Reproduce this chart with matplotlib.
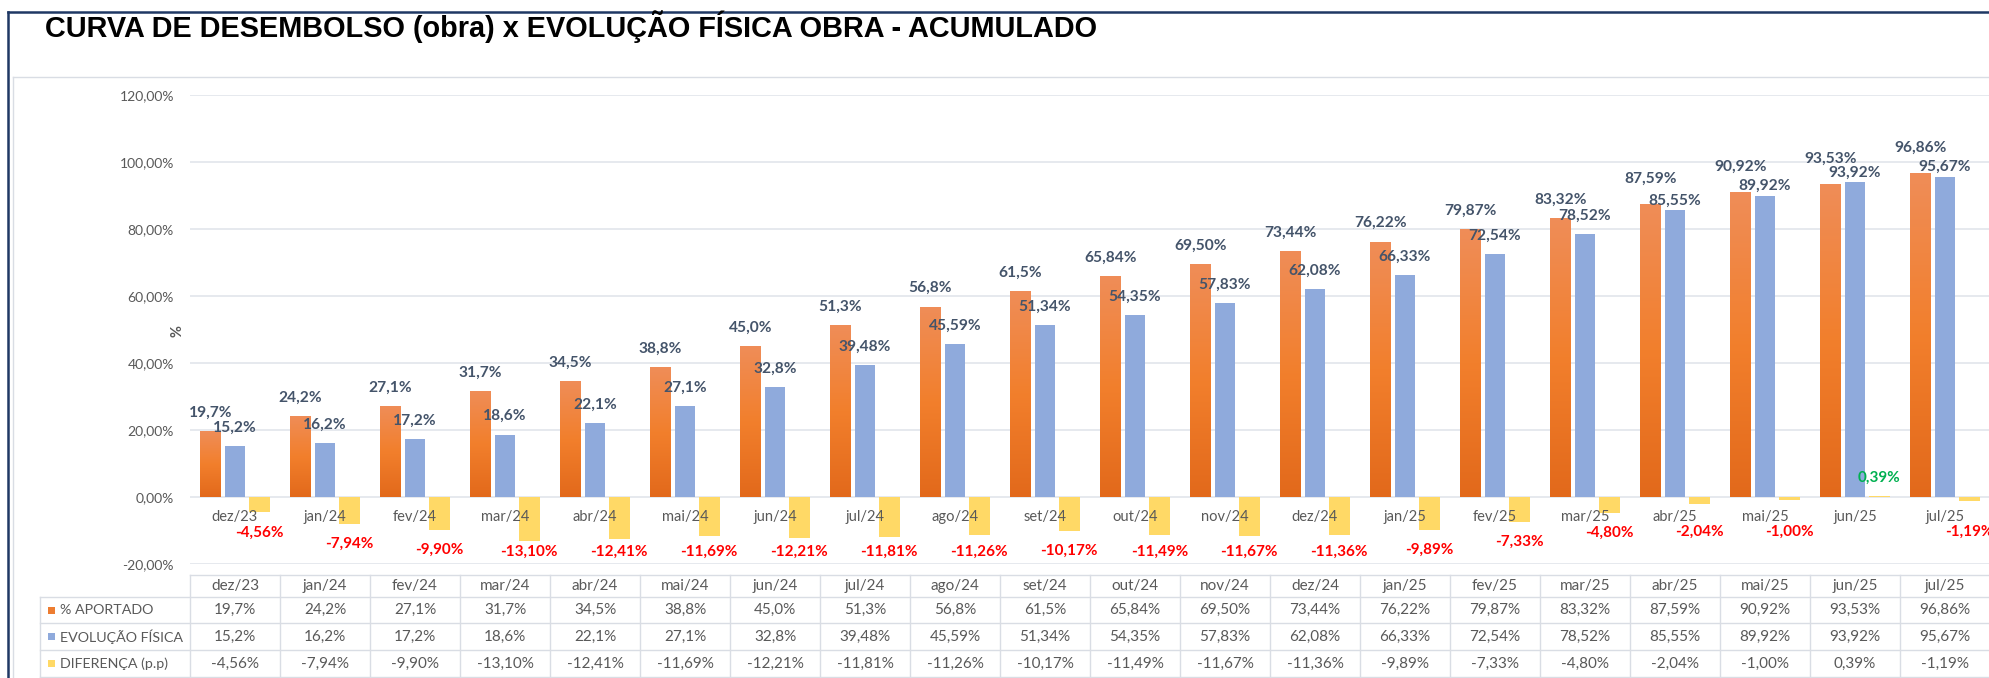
import numpy as np
import matplotlib
matplotlib.use("Agg")
import matplotlib.pyplot as plt
from matplotlib.patches import Rectangle
from matplotlib.lines import Line2D
from matplotlib.colors import LinearSegmentedColormap

# ---------------- data ----------------
categories = ["dez/23", "jan/24", "fev/24", "mar/24", "abr/24", "mai/24", "jun/24",
              "jul/24", "ago/24", "set/24", "out/24", "nov/24", "dez/24", "jan/25",
              "fev/25", "mar/25", "abr/25", "mai/25", "jun/25", "jul/25"]
aportado = [19.7, 24.2, 27.1, 31.7, 34.5, 38.8, 45.0, 51.3, 56.8, 61.5,
            65.84, 69.50, 73.44, 76.22, 79.87, 83.32, 87.59, 90.92, 93.53, 96.86]
aportado_dec = [1, 1, 1, 1, 1, 1, 1, 1, 1, 1, 2, 2, 2, 2, 2, 2, 2, 2, 2, 2]
evolucao = [15.2, 16.2, 17.2, 18.6, 22.1, 27.1, 32.8, 39.48, 45.59, 51.34,
            54.35, 57.83, 62.08, 66.33, 72.54, 78.52, 85.55, 89.92, 93.92, 95.67]
evolucao_dec = [1, 1, 1, 1, 1, 1, 1, 2, 2, 2, 2, 2, 2, 2, 2, 2, 2, 2, 2, 2]
diferenca = [-4.56, -7.94, -9.90, -13.10, -12.41, -11.69, -12.21, -11.81, -11.26, -10.17,
             -11.49, -11.67, -11.36, -9.89, -7.33, -4.80, -2.04, -1.00, 0.39, -1.19]
diferenca_dec = [2] * 20
series_names = ["% APORTADO", "EVOLUÇÃO FÍSICA", "DIFERENÇA (p.p)"]
yticks = [-20, 0, 20, 40, 60, 80, 100, 120]
title = "CURVA DE DESEMBOLSO (obra) x EVOLUÇÃO FÍSICA OBRA - ACUMULADO"

# ---------------- style ----------------
W, H = 1990, 678
BODY = ["Lato", "DejaVu Sans"]
TITLE_FONT = ["Liberation Sans", "DejaVu Sans"]
plt.rcParams["font.family"] = BODY
ORANGE = "#ED7D31"
BLUE = "#8FAADC"
YELLOW = "#FFD966"
GRID = "#dfe3ea"
TXT = "#595959"
LBL = "#44546A"
TBL = "#d9dde4"


def fmt(v, d):
    return f"{v:.{d}f}".replace(".", ",") + "%"


def fx(x):
    return x / W


def fy(y):
    return 1 - y / H


fig = plt.figure(figsize=(W / 100, H / 100), dpi=100)
fig.patch.set_facecolor("white")

ax = fig.add_axes([fx(190), fy(564), (1990 - 190) / W, (564 - 95) / H])
ax.set_facecolor("white")
x = np.arange(len(categories))
bw = 0.228
offs = [-0.275, 0.0, 0.27]

for t in yticks:
    ax.axhline(t, color=GRID, lw=1.1, zorder=0.5)
bars_o = ax.bar(x + offs[0], aportado, bw, color=ORANGE, zorder=2)
bars_b = ax.bar(x + offs[1], evolucao, bw, color=BLUE, zorder=2)
bars_y = ax.bar(x + offs[2], diferenca, bw, color=YELLOW, zorder=2)

# orange gradient (lighter top, darker bottom) per bar
cmap = LinearSegmentedColormap.from_list("og", ["#E2691B", "#F27F2C", "#EF8D58"])
grad = np.linspace(0, 1, 256).reshape(-1, 1)
for p in bars_o:
    x0, w, h = p.get_x(), p.get_width(), p.get_height()
    im = ax.imshow(grad, extent=[x0, x0 + w, 0, h], origin="lower", aspect="auto",
                   cmap=cmap, zorder=2.1)
    im.set_clip_path(p)

ax.set_xlim(-0.5, len(categories) - 0.5)
ax.set_ylim(yticks[0], yticks[-1])
ax.set_yticks(yticks)
ax.set_yticklabels([fmt(t, 2) for t in yticks])
ax.tick_params(axis="y", length=0, pad=11.5, labelsize=10, labelcolor=TXT)
ax.set_xticks(x)
ax.set_xticklabels(categories)
ax.spines["bottom"].set_position(("data", 0))
for s in ax.spines.values():
    s.set_visible(False)
ax.tick_params(axis="x", length=0, pad=9.5, labelsize=10.5, labelcolor=TXT)
ax.set_axisbelow(False)
ax.xaxis.set_zorder(3)

# data labels
for i in range(len(categories)):
    close = abs(aportado[i] - evolucao[i]) < 3
    off_o = 7.5 if close else 5.5
    off_b = 3.0 if close else 5.5
    ax.text(x[i] + offs[0], aportado[i] + off_o, fmt(aportado[i], aportado_dec[i]),
            ha="center", va="center", fontsize=11.2, fontweight="bold", color=LBL, zorder=5)
    ax.text(x[i] + offs[1], evolucao[i] + off_b, fmt(evolucao[i], evolucao_dec[i]),
            ha="center", va="center", fontsize=11.2, fontweight="bold", color=LBL, zorder=5)
    d = diferenca[i]
    if d < 0:
        yl = float(np.clip(d - 6, -16.5, -10.5))
        col = "#FF0000"
    else:
        yl = d + 5.3
        col = "#00B050"
    ax.text(x[i] + offs[2], yl, fmt(d, diferenca_dec[i]), ha="center", va="center",
            fontsize=11, fontweight="bold", color=col, zorder=5)

# y axis title
fig.text(fx(178), fy(331), "%", rotation=90, ha="center", va="center",
         fontsize=10.5, fontweight="bold", color=TXT)

# title
fig.text(fx(45), fy(37), title, fontsize=20.8, fontweight="bold", family=TITLE_FONT,
         color="black", va="baseline", ha="left")

# frames
fig.add_artist(Line2D([fx(8), fx(1990)], [fy(12), fy(12)], color="#1F3864", lw=1.8))
fig.add_artist(Line2D([fx(8), fx(8)], [fy(12), fy(678)], color="#1F3864", lw=1.8))
fig.add_artist(Line2D([fx(13), fx(1990)], [fy(77), fy(77)], color=TBL, lw=1.0))
fig.add_artist(Line2D([fx(13), fx(13)], [fy(77), fy(678)], color=TBL, lw=1.0))

# data table
col_left = 190
col_w = 1800 / len(categories)
row_y = [575, 597, 623, 650, 677]
lab_left = 40
fig.add_artist(Line2D([fx(col_left), fx(1990)], [fy(row_y[0])] * 2, color=TBL, lw=1.0))
for ry in row_y[1:]:
    fig.add_artist(Line2D([fx(lab_left), fx(1990)], [fy(ry)] * 2, color=TBL, lw=1.0))
fig.add_artist(Line2D([fx(lab_left)] * 2, [fy(row_y[1]), fy(row_y[-1])], color=TBL, lw=1.0))
for k in range(len(categories) + 1):
    cx = col_left + k * col_w
    fig.add_artist(Line2D([fx(cx)] * 2, [fy(row_y[0]), fy(row_y[-1])], color=TBL, lw=1.0))

rows = [(aportado, aportado_dec, ORANGE), (evolucao, evolucao_dec, BLUE),
        (diferenca, diferenca_dec, YELLOW)]
for k, cat in enumerate(categories):
    cx = col_left + (k + 0.5) * col_w
    fig.text(fx(cx), fy((row_y[0] + row_y[1]) / 2), cat, ha="center", va="center",
             fontsize=11, color=TXT)
for r, (vals, decs, colr) in enumerate(rows):
    cy = (row_y[r + 1] + row_y[r + 2]) / 2
    fig.add_artist(Rectangle((fx(48), fy(cy + 3.5)), 7 / W, 7 / H, facecolor=colr,
                             edgecolor="none", transform=fig.transFigure))
    fig.text(fx(60), fy(cy), series_names[r], ha="left", va="center", fontsize=10.3,
             color=TXT)
    for k in range(len(categories)):
        cx = col_left + (k + 0.5) * col_w
        fig.text(fx(cx), fy(cy), fmt(vals[k], decs[k]), ha="center", va="center",
                 fontsize=11, color=TXT)

fig.savefig("out.png", dpi=100, facecolor="white")
